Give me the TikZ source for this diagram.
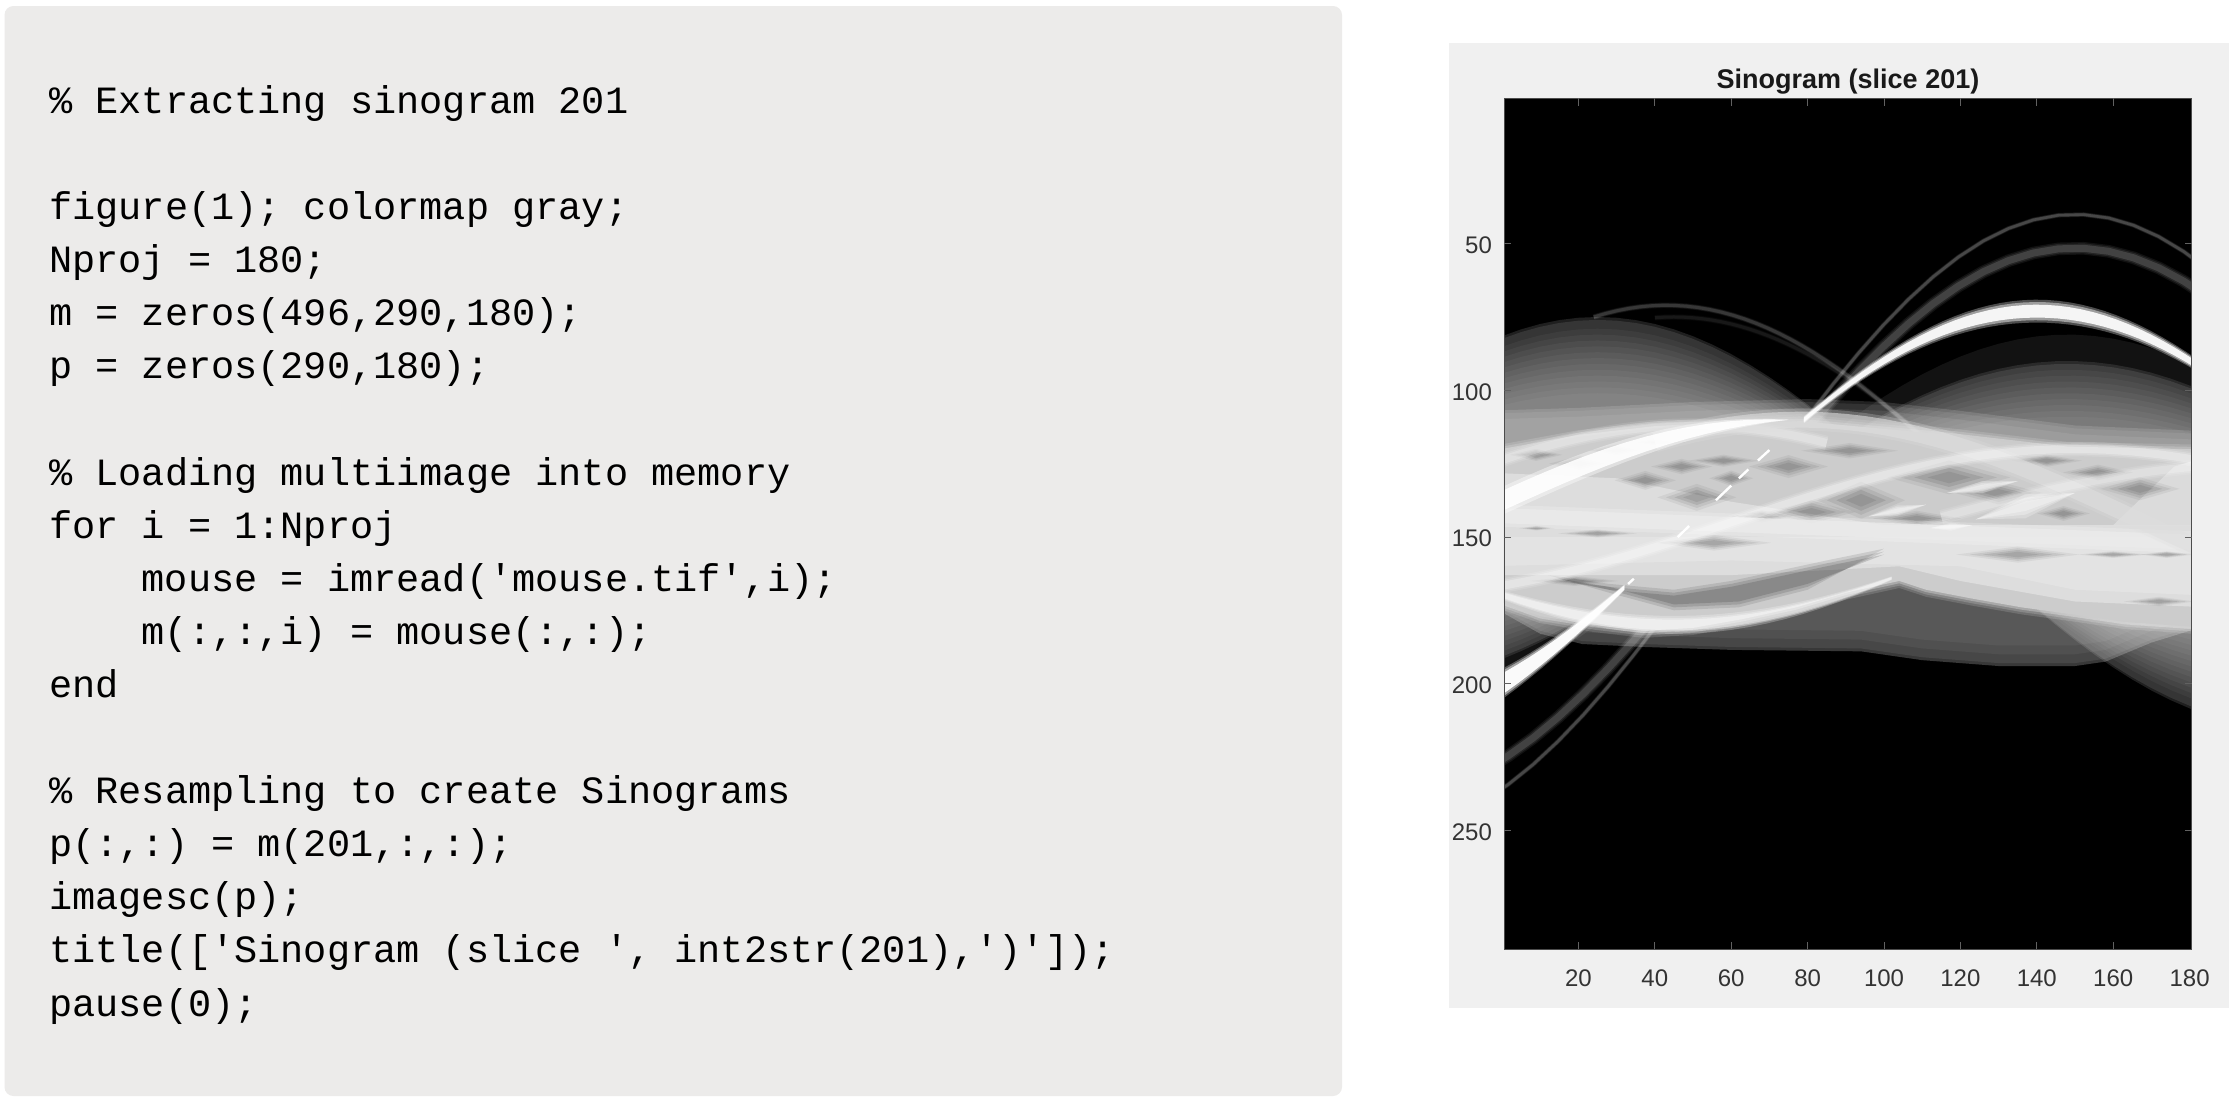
\documentclass[tikz,border=0pt]{standalone}
\usepackage{fontspec}
\setmainfont{Liberation Sans}
\newfontfamily\codefont{Liberation Mono}
\definecolor{cardbg}{HTML}{ECEBEA}
\definecolor{panelbg}{HTML}{F0F0F0}
\definecolor{ticktxt}{HTML}{333333}
\tikzset{
 codeline/.style={anchor=base west,inner sep=0pt,font=\codefont\fontsize{38.6}{38.6}\selectfont\frenchspacing,text=black},
 ticklab/.style={inner sep=0pt,font=\fontsize{24}{24}\selectfont,text=ticktxt},
 axistick/.style={draw=black!62,line width=0.8pt}
}
% sinusoid lobe: area between the sinusoid and the centre row
\newcommand\lobe[3]{\fill[white,fill opacity=#3] plot[domain=-5:185,samples=39] (\x,{145-#2*cos(\x-#1)}) -- (185,145) -- (-5,145) -- cycle;}
% sinusoid stroke over a range, and its soft version
\newcommand\drib[6]{\draw[white,line width=#3pt,draw opacity=#4] plot[domain=#5:#6,samples=30] (\x,{145-#2*cos(\x-#1)});}
\newcommand\srib[6]{\drib{#1}{#2}{1.8*#3}{0.3*#4}{#5}{#6}\drib{#1}{#2}{1.4*#3}{0.4*#4}{#5}{#6}\drib{#1}{#2}{#3}{0.6*#4}{#5}{#6}}
% soft dark diamond
\newcommand\diam[4]{\foreach \k/\o in {1.15/0.05,0.9/0.07,0.65/0.09,0.4/0.08}{
 \fill[black,fill opacity=\o] (#1-\k*#3,#2) -- (#1,#2-\k*#4) -- (#1+\k*#3,#2) -- (#1,#2+\k*#4) -- cycle;}}
% short bright tapered stroke
\newcommand\seg[5]{\foreach \k/\o in {1/0.25,0.7/0.3,0.4/0.3}{
 \fill[white,fill opacity=\o] (#1,#2) -- ({(#1+#3)/2},{(#2+#4)/2-\k*#5/2.9}) -- (#3,#4) -- ({(#1+#3)/2},{(#2+#4)/2+\k*#5/2.9}) -- cycle;}}
\begin{document}
\begin{tikzpicture}[x=1pt,y=-1pt]
\useasboundingbox (0,0) rectangle (2238,1100);
\fill[white] (0,0) rectangle (2238,1100);
% code card
\fill[cardbg,rounded corners=9pt] (4.5,6) rectangle (1342,1096);
\node[codeline] (l0) at (49,113.3) {\%~Extracting sinogram 201};
\node[codeline] (l2) at (49,219.7) {figure(1); colormap gray;};
\node[codeline] (l3) at (49,272.8) {Nproj = 180;};
\node[codeline] (l4) at (49,325.8) {m = zeros(496,290,180);};
\node[codeline] (l5) at (49,378.8) {p = zeros(290,180);};
\node[codeline] (l7) at (49,485.3) {\%~Loading multiimage into memory};
\node[codeline] (l8) at (49,538.3) {for i = 1:Nproj};
\node[codeline] (l9) at (141.6,591.3) {mouse = imread('mouse.tif',i);};
\node[codeline] (l10) at (141.6,644.4) {m(:,:,i) = mouse(:,:);};
\node[codeline] (l11) at (49,697.4) {end};
\node[codeline] (l13) at (49,803.7) {\%~Resampling to create Sinograms};
\node[codeline] (l14) at (49,856.8) {p(:,:) = m(201,:,:);};
\node[codeline] (l15) at (49,909.8) {imagesc(p);};
\node[codeline] (l16) at (49,962.9) {title(['Sinogram (slice ', int2str(201),')']);};
\node[codeline] (l17) at (49,1016) {pause(0);};
% figure panel
\fill[panelbg] (1449,43) rectangle (2229,1008);
\node[inner sep=0pt,font=\bfseries\fontsize{27}{27}\selectfont,text=black!90] (title) at (1848,82) {Sinogram (slice 201)};
\begin{scope}[shift={(1502,97)},x=3.82pt,y=-2.933pt]
\begin{scope}
\clip (0.5,0.5) rectangle (180.5,290.5);
\fill[black] (0.5,0.5) rectangle (180.5,290.5);
% faint haze under the white arc
\lobe{148}{64}{0.07}
% thin outer arcs
\srib{150}{105}{2.6}{0.24}{-5}{185}
\srib{150}{93.5}{7}{0.22}{-5}{185}
\srib{43}{74}{3}{0.18}{24}{112}
\srib{45}{70}{3}{0.08}{40}{112}
% left lobes
\lobe{25}{70}{0.12}
\lobe{25}{69}{0.10}
\foreach \A in {66,64,...,44}{\lobe{25}{\A}{0.045}}
% right lobes
\lobe{148}{55}{0.10}
\lobe{148}{54}{0.10}
\foreach \A in {52,50,...,36}{\lobe{148}{\A}{0.045}}
% lower haze
\foreach \s/\a in {0/0.22,-1/0.08,-4/0.05,-7/0.05}{
 \fill[white,fill opacity=\a,shift={(0,\s)}] (-5,172) -- (10,183) -- (21,186.5) -- (37,187.5) -- (60,188.5) -- (94,189) -- (110,192) -- (130,194) -- (150,194) -- (158,192.5) -- (170,186) -- (185,180) -- (185,145) -- (-5,145) -- cycle;
}
% upper haze
\foreach \s/\a in {0/0.13,1/0.08,3/0.08}{
 \fill[white,fill opacity=\a,shift={(0,\s)}] (-5,107) -- (20,106) -- (50,104) -- (80,103) -- (100,104) -- (120,107) -- (150,112) -- (185,114) -- (185,145) -- (-5,145) -- cycle;
}
% bright body: soft rims, then an opaque core
\foreach \s/\a/\c in {2.4/0.14/white,1.6/0.18/white,0.8/0.28/white,0/1/black!20}{
\fill[\c,fill opacity=\a] (-5,122-\s) -- (20,116-\s) -- (40,113-\s) -- (78,110.5-\s) -- (115,115-\s) -- (148,120-\s) -- (185,121-\s)
  -- (185,181+\s) -- (163,179+\s) -- (150,176.5+\s) -- (136,174+\s) -- (123,171+\s) -- (111,168+\s) -- (104,165+\s) -- (90,169+\s) -- (77,174+\s) -- (63,178+\s) -- (50,181+\s) -- (37,182+\s) -- (24,180+\s) -- (10,177+\s) -- (-5,170+\s) -- cycle;
}
% lighter areas of the band
\fill[white,fill opacity=0.35] (-5,128) -- (30,130) -- (60,138) -- (100,146) -- (185,146) -- (185,174) -- (150,172) -- (120,165) -- (104,160) -- (60,163) -- (-5,163) -- cycle;
\fill[white,fill opacity=0.2] (-5,150) -- (185,150) -- (185,170) -- (150,168) -- (120,160) -- (60,158) -- (-5,160) -- cycle;
\fill[white,fill opacity=0.3] (176,126) -- (186,122) -- (186,146) -- (160,146) -- cycle;
% dark diamonds between the crossing arcs
\diam{117}{129.7}{14}{5}\diam{94}{137.5}{10}{5.5}\diam{108.6}{143.7}{10}{2.3}\diam{130}{135}{10}{3.4}
\diam{142.6}{124}{8}{1.8}\diam{156}{128}{8}{2.3}\diam{167}{133.6}{9}{3.4}\diam{147}{142}{6}{2.2}
\diam{135}{156}{14}{2.4}\diam{91}{120.6}{11}{2.3}
\diam{20.4}{125}{7}{2.3}\diam{8.9}{122}{6}{1.8}\diam{30}{120.5}{6}{1.8}\diam{41}{117.7}{6}{1.3}
\diam{37.5}{130.7}{7}{2.8}\diam{47}{126}{7}{2.3}\diam{51}{136.5}{9}{4}\diam{58}{124}{8}{1.8}
\diam{60}{130}{5}{2.3}\diam{75}{126}{9}{3.4}\diam{81}{141.5}{10}{3.4}\diam{68}{143}{7}{1.8}
\diam{25}{148.8}{9}{1.2}\diam{55.5}{152}{13}{2.3}\diam{19}{165}{10}{1.5}\diam{9}{147}{4}{0.7}
\diam{172}{172}{8}{1.4}\diam{160}{156}{8}{1}\diam{174}{156}{6}{1}
% dark crescent over the lower arc
\foreach \o/\k in {0.10/0,0.12/1,0.14/2}{
 \fill[black,fill opacity=\o] (12+2*\k,163+\k) -- (28,169-\k) -- (45,175-\k) -- (62,174-\k) -- (80,168-\k) -- (100,154+\k) -- (85,158+\k) -- (60,165+\k) -- (45,168+\k) -- (28,166+\k) -- cycle;
}
% horizontal band and crossing bright arcs
\srib{50}{33}{8}{0.38}{-5}{85}
\draw[white,line width=22pt,draw opacity=0.2] (-5,142.5) -- (185,152);
\draw[black!8,line width=15pt,draw opacity=0.8] (-5,142.5) -- (185,152);
\draw[black!13,line width=22pt,draw opacity=0.25] plot[domain=40:185,samples=30] (\x,{145-35*cos(\x-78)});
\draw[black!13,line width=16pt,draw opacity=0.6] plot[domain=40:185,samples=30] (\x,{145-35*cos(\x-78)});
\srib{150}{25}{8}{0.45}{-5}{185}
\srib{200}{20}{8}{0.35}{115}{185}
\seg{96}{143}{111}{139}{5}
\seg{112}{147}{123}{146}{4}
\seg{116.5}{135}{135}{131}{6}
\seg{124}{144}{150}{135}{12}
% lower arc, fading towards the cusp
\foreach \f/\o in {1.7/0.25,1.3/0.3,1/0.4}{
\fill[white,fill opacity=\o] plot[domain=-5:102,samples=24] (\x,{145+35*cos(\x-45)-\f*(0.2+1.6*(1-((\x-45)/60)^2))}) -- plot[domain=102:-5,samples=24] (\x,{145+35*cos(\x-45)+\f*(0.2+1.6*(1-((\x-45)/60)^2))}) -- cycle;
}
\end{scope}
\begin{scope}
\clip (0.5,0.5) rectangle (180.5,290.5);
% the bright thick arc on the left
\foreach \f/\o in {1.4/0.4,1/0.9}{
\fill[white,fill opacity=\o] plot[domain=-5:75,samples=16] (\x,{145-35*cos(\x-78)-\f*3.4*(1-(\x/75)^2)}) -- plot[domain=75:-5,samples=16] (\x,{145-35*cos(\x-78)+\f*3.4*(1-(\x/75)^2)}) -- cycle;
}
% the white arc: tapered ribbon, soft halo first
\foreach \a/\b/\o in {0.9/3.0/0.3,0.7/2.4/0.45,0.5/1.7/0.9}{
\fill[white,fill opacity=\o] plot[domain=79:185,samples=36] (\x,{145-72*cos(\x-140)-(\a+\b*cos((\x-140)*0.9)^4)}) -- plot[domain=185:79,samples=36] (\x,{145-72*cos(\x-140)+(\a+\b*cos((\x-140)*0.9)^4)}) -- cycle;
}
\foreach \a/\b/\o in {5.2/0.13/0.3,4.5/0.115/0.45,3.6/0.09/0.95}{
\fill[white,fill opacity=\o] plot[domain=-5:32,samples=13] (\x,{145-72*cos(\x-140)-(\a-\b*\x)}) -- plot[domain=32:-5,samples=13] (\x,{145-72*cos(\x-140)+(\a-\b*\x)}) -- cycle;
}
% broken pieces inside the band
\foreach \a/\b in {33/34.5,46/49,56/60,62/64.5,67/70}{
 \draw[white,line width=2.4pt] plot[domain=\a:\b,samples=3] (\x,{145-72*cos(\x-140)});
}
\end{scope}
% frame and ticks
\draw[black!70,line width=0.8pt] (0.5,0.5) rectangle (180.5,290.5);
\foreach \v in {20,40,...,160}{
 \draw[axistick] (\v,0.5) -- (\v,2.9);
 \draw[axistick] (\v,290.5) -- (\v,288.1);
 \node[ticklab] (xl\v) at (\v,300.4) {\v};
}
\node[ticklab] (xl180) at (180,300.4) {180};
\foreach \v in {50,100,...,250}{
 \draw[axistick] (0.5,\v) -- (2.3,\v);
 \draw[axistick] (180.5,\v) -- (178.7,\v);
 \node[ticklab,anchor=east] (yl\v) at (-2.6,\v+0.6) {\v};
}
\end{scope}
\end{tikzpicture}
\end{document}
